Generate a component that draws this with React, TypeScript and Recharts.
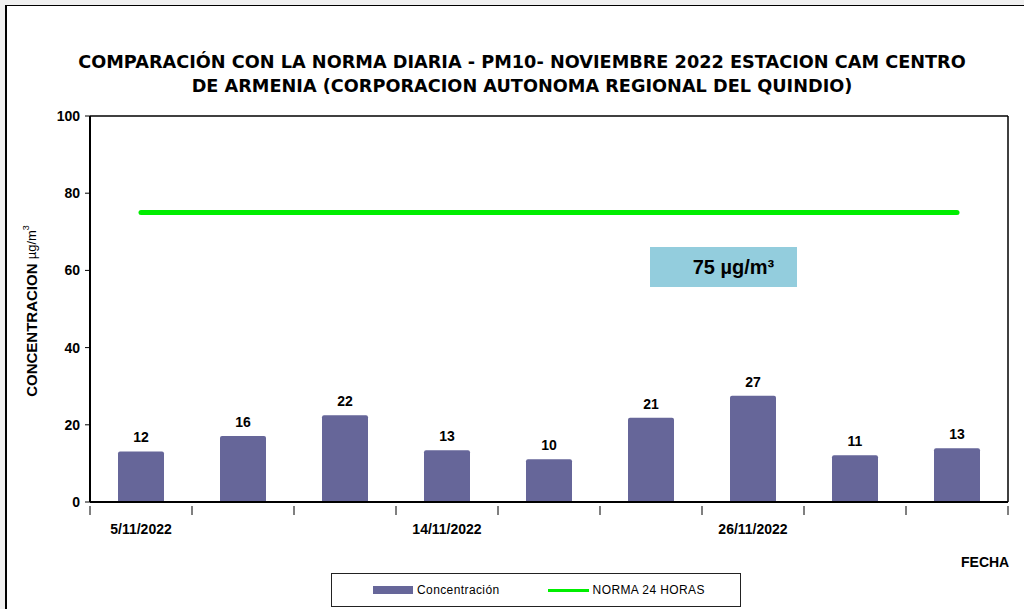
import React from "react";
import {
  ComposedChart,
  Bar,
  Line,
  XAxis,
  YAxis,
  LabelList,
} from "recharts";

const fechas = [
  "5/11/2022",
  "8/11/2022",
  "11/11/2022",
  "14/11/2022",
  "17/11/2022",
  "20/11/2022",
  "26/11/2022",
  "28/11/2022",
  "30/11/2022",
];
const concentracion = [13.1, 17.1, 22.5, 13.4, 11.1, 21.8, 27.5, 12.1, 13.9];
const etiquetas = [12, 16, 22, 13, 10, 21, 27, 11, 13];
const norma = [75, 75, 75, 75, 75, 75, 75, 75, 75];
const yTicks = [0, 20, 40, 60, 80, 100];

const data = fechas.map((f, i) => ({
  fecha: f,
  concentracion: concentracion[i],
  etiqueta: etiquetas[i],
  norma: norma[i],
}));

const arial = "'Liberation Sans', Arial, sans-serif";
const bold14 = { fontFamily: arial, fontWeight: 700, fontSize: 14, fill: "#000" };

// x tick: date label every 3rd category, tick marks on band edges
const FechaTick = (props: any) => {
  const { x, y, payload, index, width } = props;
  const band = (width || 918) / fechas.length;
  const left = x - band / 2;
  return (
    <g>
      <line x1={left} x2={left} y1={y - 4} y2={y + 5} stroke="#000" strokeWidth={1} />
      {index === fechas.length - 1 && (
        <line x1={x + band / 2} x2={x + band / 2} y1={y - 4} y2={y + 5} stroke="#000" strokeWidth={1} />
      )}
      {index % 3 === 0 && (
        <text x={x} y={y + 24} textAnchor="middle" style={bold14}>
          {payload.value}
        </text>
      )}
    </g>
  );
};

const BarLabel = (props: any) => {
  const { x, y, width, index } = props;
  return (
    <text x={x + width / 2} y={y - 9} textAnchor="middle" style={bold14}>
      {etiquetas[index]}
    </text>
  );
};

const Leyenda = () => (
  <div
    style={{
      position: "absolute",
      left: 331,
      top: 573,
      width: 408,
      height: 32,
      border: "1px solid #222",
      background: "#fff",
      display: "flex",
      alignItems: "center",
      fontFamily: arial,
      fontSize: 12,
      color: "#000",
    }}
  >
    <span style={{ marginLeft: 41, width: 40, height: 8, background: "#666699", display: "inline-block" }} />
    <span style={{ marginLeft: 4, letterSpacing: 0.4 }}>Concentración</span>
    <span style={{ marginLeft: 48, width: 41, height: 3, background: "#00ee00", display: "inline-block" }} />
    <span style={{ marginLeft: 4, letterSpacing: 0.4 }}>NORMA 24 HORAS</span>
  </div>
);

export default function App() {
  return (
    <div style={{ position: "absolute", left: 0, top: 0, width: 1024, height: 609, background: "#f0f0f0", overflow: "hidden" }}>
      <div
        style={{
          position: "absolute",
          left: 5,
          top: 5,
          width: 1030,
          height: 620,
          background: "#fff",
          borderLeft: "2px solid #000",
          borderTop: "1.5px solid #000",
        }}
      />
      <div
        style={{
          position: "absolute",
          left: 0,
          top: 50,
          width: 1044,
          textAlign: "center",
          fontFamily: "'DejaVu Sans', Tahoma, sans-serif",
          fontWeight: 700,
          fontSize: 17.7,
          lineHeight: "24px",
          color: "#000",
        }}
      >
        COMPARACIÓN CON LA NORMA DIARIA - PM10- NOVIEMBRE 2022 ESTACION CAM CENTRO
        <br />
        DE ARMENIA (CORPORACION AUTONOMA REGIONAL DEL QUINDIO)
      </div>
      <div style={{ position: "absolute", left: 0, top: 0 }}>
        <ComposedChart
          width={1024}
          height={609}
          data={data}
          margin={{ top: 115, right: 15, left: 50, bottom: 77 }}
        >
          <XAxis
            dataKey="fecha"
            interval={0}
            tick={<FechaTick />}
            tickLine={false}
            axisLine={{ stroke: "#000", strokeWidth: 2 }}
            height={30}
          />
          <XAxis
            xAxisId="top"
            orientation="top"
            dataKey="fecha"
            tick={false}
            tickLine={false}
            axisLine={{ stroke: "#000", strokeWidth: 1.5 }}
            height={1}
          />
          <YAxis
            domain={[0, 100]}
            ticks={yTicks}
            width={40}
            tick={bold14}
            tickSize={5}
            tickMargin={5}
            tickLine={{ stroke: "#000" }}
            axisLine={{ stroke: "#000", strokeWidth: 2 }}
            label={() => (
              <text
                transform={`rotate(-90, 31, 311)`}
                x={31}
                y={311}
                textAnchor="middle"
                dominantBaseline="central"
                style={{ fontFamily: arial, fontSize: 15, fill: "#000" }}
              >
                <tspan fontWeight={700}>CONCENTRACION </tspan>
                <tspan fontSize={13}>µg/m</tspan>
                <tspan fontSize={9} dy={-5}>3</tspan>
              </text>
            )}
          />
          <YAxis
            yAxisId="right"
            orientation="right"
            domain={[0, 100]}
            ticks={yTicks}
            tick={false}
            tickLine={false}
            axisLine={{ stroke: "#000", strokeWidth: 1.5 }}
            width={1}
          />
          <Bar dataKey="concentracion" name="Concentración" fill="#666699" barSize={46} radius={[2, 2, 0, 0]} isAnimationActive={false}>
            <LabelList dataKey="etiqueta" content={<BarLabel />} />
          </Bar>
          <Line
            dataKey="norma"
            name="NORMA 24 HORAS"
            xAxisId="top"
            yAxisId="right"
            stroke="#00ee00"
            strokeWidth={5}
            strokeLinecap="round"
            dot={false}
            activeDot={false}
            isAnimationActive={false}
          />
        </ComposedChart>
      </div>
      <div
        style={{
          position: "absolute",
          left: 650,
          top: 247,
          width: 147,
          height: 40,
          background: "#93cddd",
          display: "flex",
          alignItems: "center",
          justifyContent: "center",
          paddingLeft: 20,
          boxSizing: "border-box",
          fontFamily: arial,
          fontWeight: 700,
          fontSize: 20,
          color: "#000",
        }}
      >
        75 µg/m³
      </div>
      <div
        style={{
          position: "absolute",
          left: 961,
          top: 554,
          fontFamily: arial,
          fontWeight: 700,
          fontSize: 14,
          color: "#000",
        }}
      >
        FECHA
      </div>
      <Leyenda />
    </div>
  );
}
